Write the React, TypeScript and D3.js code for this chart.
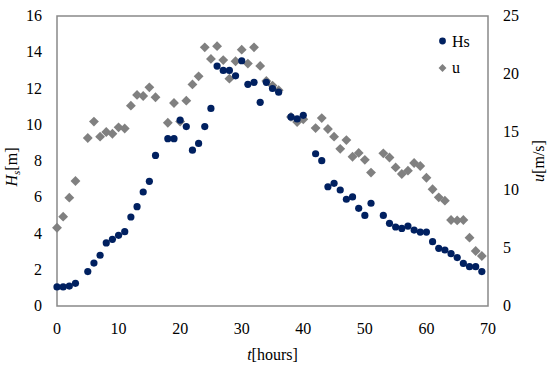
import * as d3 from 'd3';

// hours at which both series were sampled
const hours = [
  0, 1, 2, 3, 5, 6, 7, 8, 9, 10, 11, 12, 13, 14, 15, 16, 18, 19, 20, 21, 22, 23,
  24, 25, 26, 27, 28, 29, 30, 31, 32, 33, 34, 35, 36, 38, 39, 40, 42, 43, 44,
  45, 46, 47, 48, 49, 50, 51, 53, 54, 55, 56, 57, 58, 59, 60, 61, 62, 63, 64,
  65, 66, 67, 68, 69,
];

// significant wave height Hs [m]
const hs = [
  1.05, 1.05, 1.1, 1.25, 1.9, 2.37, 2.8, 3.48, 3.68, 3.9, 4.1, 4.91, 5.48, 6.29,
  6.88, 8.31, 9.23, 9.23, 10.26, 9.9, 8.6, 8.97, 9.9, 10.9, 13.24, 13.0, 13.0,
  12.7, 13.53, 12.23, 12.34, 11.24, 12.34, 12.0, 11.8, 10.43, 10.32, 10.52, 8.4,
  8.02, 6.58, 6.77, 6.4, 5.89, 6.02, 5.39, 5.0, 5.67, 5.0, 4.56, 4.36, 4.28,
  4.41, 4.19, 4.08, 4.08, 3.55, 3.18, 3.09, 2.89, 2.67, 2.35, 2.17, 2.17, 1.9,
];

// wind speed u [m/s]
const u = [
  6.75, 7.7, 9.34, 10.78, 14.48, 15.9, 14.6, 15.0, 14.85, 15.4, 15.3, 17.27,
  18.2, 18.1, 18.85, 18.0, 15.8, 17.5, 15.9, 17.7, 19.1, 19.8, 22.3, 21.3, 22.4,
  21.2, 19.6, 21.1, 22.1, 20.9, 22.3, 20.7, 19.4, 19.0, 18.6, 16.3, 15.86, 16.1,
  15.34, 16.2, 15.26, 14.6, 13.55, 14.3, 12.87, 13.2, 12.6, 11.5, 13.16, 12.8,
  11.95, 11.38, 11.67, 12.33, 12.07, 11.06, 10.06, 9.37, 9.08, 7.41, 7.38, 7.41,
  5.89, 4.74, 4.31,
];

const xTicks = [0, 10, 20, 30, 40, 50, 60, 70];
const leftTicks = [0, 2, 4, 6, 8, 10, 12, 14, 16];
const rightTicks = [0, 5, 10, 15, 20, 25];

const W = 550;
const H = 368;
const plot = { left: 57, right: 488, top: 16, bottom: 306 };
const navy = '#002060';
const gray = '#808080';
const serif = 'Liberation Serif, DejaVu Serif, Times New Roman, Times, serif';

export default function App() {
  const x = d3.scaleLinear().domain([0, 70]).range([plot.left, plot.right]);
  const yL = d3.scaleLinear().domain([0, 16]).range([plot.bottom, plot.top]);
  const yR = d3.scaleLinear().domain([0, 25]).range([plot.bottom, plot.top]);
  const diamond = d3.symbol().type(d3.symbolDiamond2).size(62)()!;

  const midY = (plot.top + plot.bottom) / 2 + 6;

  return (
    <div style={{ fontFamily: serif }}>
      <svg
        width={W}
        height={H}
        style={{ position: 'absolute', left: 0, top: 0, background: '#fff' }}
      >
        <g fontFamily={serif} fontSize={16} fill="#000">
          <rect
            x={plot.left}
            y={plot.top}
            width={plot.right - plot.left}
            height={plot.bottom - plot.top}
            fill="none"
            stroke="#898989"
            strokeWidth={1.5}
          />

          {/* x ticks */}
          {xTicks.map((t) => (
            <text key={'x' + t} x={x(t)} y={334} textAnchor="middle" fontFamily={serif}>
              {t}
            </text>
          ))}
          {/* left ticks */}
          {leftTicks.map((t) => (
            <text key={'l' + t} x={42} y={yL(t) + 5} textAnchor="end" fontFamily={serif}>
              {t}
            </text>
          ))}
          {/* right ticks */}
          {rightTicks.map((t) => (
            <text key={'r' + t} x={503} y={yR(t) + 5} textAnchor="start" fontFamily={serif}>
              {t}
            </text>
          ))}

          {/* axis titles */}
          <text x={x(35)} y={360} textAnchor="middle" fontFamily={serif}>
            <tspan fontStyle="italic">t</tspan>[hours]
          </text>
          <text
            transform={`translate(17,${midY}) rotate(-90)`}
            textAnchor="middle"
            fontFamily={serif}
          >
            <tspan fontStyle="italic">H</tspan>
            <tspan fontStyle="italic" fontSize={11} dy={3}>
              s
            </tspan>
            <tspan dy={-3}>[m]</tspan>
          </text>
          <text
            transform={`translate(544,${midY - 6}) rotate(-90)`}
            textAnchor="middle"
            fontFamily={serif}
          >
            <tspan fontStyle="italic">u</tspan>[m/s]
          </text>

          {/* u series */}
          {hours.map((t, i) => (
            <path
              key={'u' + t}
              d={diamond}
              transform={`translate(${x(t)},${yR(u[i])})`}
              fill={gray}
            />
          ))}
          {/* Hs series */}
          {hours.map((t, i) => (
            <circle key={'h' + t} cx={x(t)} cy={yL(hs[i])} r={3.6} fill={navy} />
          ))}

          {/* legend */}
          <circle cx={442.5} cy={41} r={3.4} fill={navy} />
          <text x={452} y={47} fontFamily={serif}>
            Hs
          </text>
          <path d={diamond} transform="translate(442.5,68) scale(0.8)" fill={gray} />
          <text x={452} y={73} fontFamily={serif}>
            u
          </text>
        </g>
      </svg>
    </div>
  );
}
